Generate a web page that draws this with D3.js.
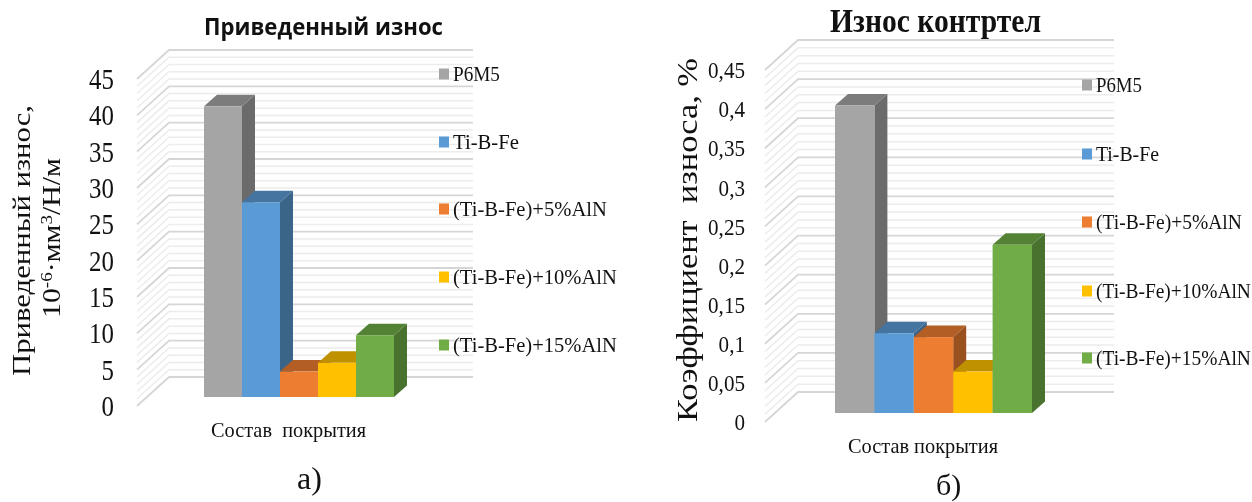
<!DOCTYPE html>
<html>
<head>
  <meta charset="utf-8">
  <title>Износ</title>
  <script src="https://d3js.org/d3.v7.min.js"></script>
  <style>
    html, body { margin: 0; padding: 0; background: #fff; overflow: hidden; }
    svg { filter: blur(0.4px); }
    text { font-family: "Liberation Serif", serif; fill: #111; }
  </style>
</head>
<body>
  <div id="chart"></div>
  <script>
    // Data
    const series = ["Р6М5", "Ti-B-Fe", "(Ti-B-Fe)+5%AlN", "(Ti-B-Fe)+10%AlN", "(Ti-B-Fe)+15%AlN"];
    const wearValues = [40, 26.8, 3.5, 4.7, 8.5];
    const counterValues = [0.393, 0.102, 0.097, 0.053, 0.215];
    const wearTicks = [0, 5, 10, 15, 20, 25, 30, 35, 40, 45];
    const counterTicks = [0, 0.05, 0.1, 0.15, 0.2, 0.25, 0.3, 0.35, 0.4, 0.45];
    const wearMinor = [1, 2, 3, 4];
    const counterMinor = [0.01, 0.02, 0.03, 0.04];

    // front, top and side colours of each bar
    const frontColors = ["#a5a5a5", "#5b9bd5", "#ed7d31", "#ffc000", "#70ad47"];
    const topColors = ["#7c7c7c", "#44749f", "#b25e25", "#bf9000", "#548235"];
    const sideColors = ["#6b6b6b", "#3b6489", "#9a5120", "#a67c00", "#4a722f"];

    const svg = d3.select("#chart").append("svg")
      .attr("width", 1252)
      .attr("height", 502);

    function drawChart(opt) {
      const g = svg.append("g");

      const x = d3.scaleBand()
        .domain(series)
        .range([opt.barLeft, opt.barRight]);

      const y = d3.scaleLinear()
        .domain([0, opt.maxValue])
        .range([opt.base, opt.top]);

      // Light gridlines between the major ones
      const minorValues = [];
      opt.ticks.slice(0, -1).forEach(t => {
        opt.minor.forEach(m => minorValues.push(t + m));
      });

      function gridLines(values, color, width) {
        g.append("g")
          .selectAll("path")
          .data(values)
          .join("path")
          .attr("d", d => `M${opt.frontX},${y(d) + opt.frontDy}L${opt.backX},${y(d) - opt.backDy}L${opt.gridRight},${y(d) - opt.backDy}`)
          .attr("fill", "none")
          .attr("stroke", color)
          .attr("stroke-width", width);
      }
      gridLines(minorValues, "#ececec", 1.5);
      gridLines(opt.ticks, "#d6d6d6", 1.8);

      // Bars, left to right so the next front covers the previous side
      series.forEach((name, i) => {
        const left = x(name);
        const right = left + x.bandwidth();
        const yTop = y(opt.values[i]);
        const yBase = y(0);

        g.append("polygon")
          .attr("points", [[right, yBase], [right + opt.depthX, yBase - opt.depthY], [right + opt.depthX, yTop - opt.depthY], [right, yTop]].join(" "))
          .attr("fill", sideColors[i]);
        g.append("polygon")
          .attr("points", [[left, yTop], [left + opt.depthX, yTop - opt.depthY], [right + opt.depthX, yTop - opt.depthY], [right, yTop]].join(" "))
          .attr("fill", topColors[i]);
        g.append("rect")
          .attr("x", left)
          .attr("y", yTop)
          .attr("width", x.bandwidth())
          .attr("height", yBase - yTop)
          .attr("fill", frontColors[i]);
      });

      // Value axis, labels only
      const axisScale = y.copy().range([opt.base + opt.frontDy, opt.top + opt.frontDy]);
      const axis = g.append("g")
        .attr("transform", `translate(${opt.axisX},0)`)
        .call(d3.axisLeft(axisScale)
          .tickValues(opt.ticks)
          .tickSize(0)
          .tickPadding(0)
          .tickFormat(d => String(d).replace(".", ",")));
      axis.select(".domain").remove();
      // the labels in the picture are narrower than the font
      axis.selectAll("text")
        .style("font-family", '"Liberation Serif", serif')
        .style("font-size", opt.tickSize + "px")
        .attr("fill", "#111")
        .attr("transform", `scale(${opt.tickSqueeze},1)`);

      // Legend
      const legend = g.append("g")
        .selectAll("g")
        .data(series)
        .join("g")
        .attr("transform", (d, i) => `translate(${opt.legendX},${opt.legendY[i]})`);
      legend.append("rect")
        .attr("x", 0)
        .attr("y", -5.5)
        .attr("width", 10)
        .attr("height", 11)
        .attr("fill", (d, i) => frontColors[i]);
      // squeeze each label to the width it has in the picture
      legend.append("text")
        .style("font-size", "21px")
        .text(d => d)
        .attr("transform", function(d, i) {
          const natural = this.getComputedTextLength();
          return `translate(14,7) scale(${opt.legendWidths[i] / natural},1)`;
        });

      // Category label under the bars
      g.append("text")
        .attr("x", opt.catX)
        .attr("y", opt.catY)
        .style("font-size", "22px")
        .attr("textLength", opt.catWidth)
        .attr("lengthAdjust", "spacingAndGlyphs")
        .attr("xml:space", "preserve")
        .text(opt.catLabel);
    }

    drawChart({
      values: wearValues, ticks: wearTicks, minor: wearMinor, maxValue: 45,
      barLeft: 204, barRight: 394, base: 397, top: 70,
      frontX: 137, frontDy: 9, backX: 169, backDy: 20, gridRight: 473,
      depthX: 13, depthY: 11.5,
      axisX: 114, tickSize: 30, tickSqueeze: 0.83,
      legendX: 439, legendY: [74, 142, 209, 277, 345],
      legendWidths: [47, 66, 154, 164, 164],
      catX: 211, catY: 437, catWidth: 155, catLabel: "Состав  покрытия"
    });

    drawChart({
      values: counterValues, ticks: counterTicks, minor: counterMinor, maxValue: 0.45,
      barLeft: 835, barRight: 1032, base: 413, top: 61,
      frontX: 765, frontDy: 9, backX: 798, backDy: 21, gridRight: 1114,
      depthX: 13, depthY: 11.5,
      axisX: 745, tickSize: 24, tickSqueeze: 0.88,
      legendX: 1082, legendY: [85, 154, 222, 291, 358],
      legendWidths: [46, 63, 146, 155, 155],
      catX: 848, catY: 453, catWidth: 150, catLabel: "Состав покрытия"
    });

    // Titles
    svg.append("text")
      .attr("x", 204).attr("y", 35)
      .style("font-family", '"Open Sans", sans-serif')
      .style("font-size", "24px").style("font-weight", "bold")
      .attr("textLength", 239).attr("lengthAdjust", "spacingAndGlyphs")
      .text("Приведенный износ");

    svg.append("text")
      .attr("x", 830).attr("y", 32)
      .style("font-size", "33px").style("font-weight", "bold")
      .attr("textLength", 211).attr("lengthAdjust", "spacingAndGlyphs")
      .text("Износ контртел");

    // Rotated axis titles
    svg.append("text")
      .attr("transform", "translate(30,376) rotate(-90)")
      .style("font-size", "26px")
      .attr("textLength", 271).attr("lengthAdjust", "spacingAndGlyphs")
      .text("Приведенный износ,");

    const unit = svg.append("text")
      .attr("transform", "translate(60,318) rotate(-90)")
      .style("font-size", "25px")
      .attr("textLength", 160).attr("lengthAdjust", "spacingAndGlyphs");
    unit.append("tspan").text("10");
    unit.append("tspan").attr("dy", -8).style("font-size", "16px").text("-6");
    unit.append("tspan").attr("dy", 8).text("·мм");
    unit.append("tspan").attr("dy", -8).style("font-size", "16px").text("3");
    unit.append("tspan").attr("dy", 8).text("/Н/м");

    svg.append("text")
      .attr("transform", "translate(697,422) rotate(-90)")
      .attr("xml:space", "preserve")
      .style("font-size", "30px")
      .attr("textLength", 364).attr("lengthAdjust", "spacingAndGlyphs")
      .text("Коэффициент  износа, %");

    // Panel letters
    svg.append("text").attr("x", 297).attr("y", 489).style("font-size", "32px").text("а)");
    svg.append("text").attr("x", 936).attr("y", 495).style("font-size", "30px").text("б)");
  </script>
</body>
</html>
